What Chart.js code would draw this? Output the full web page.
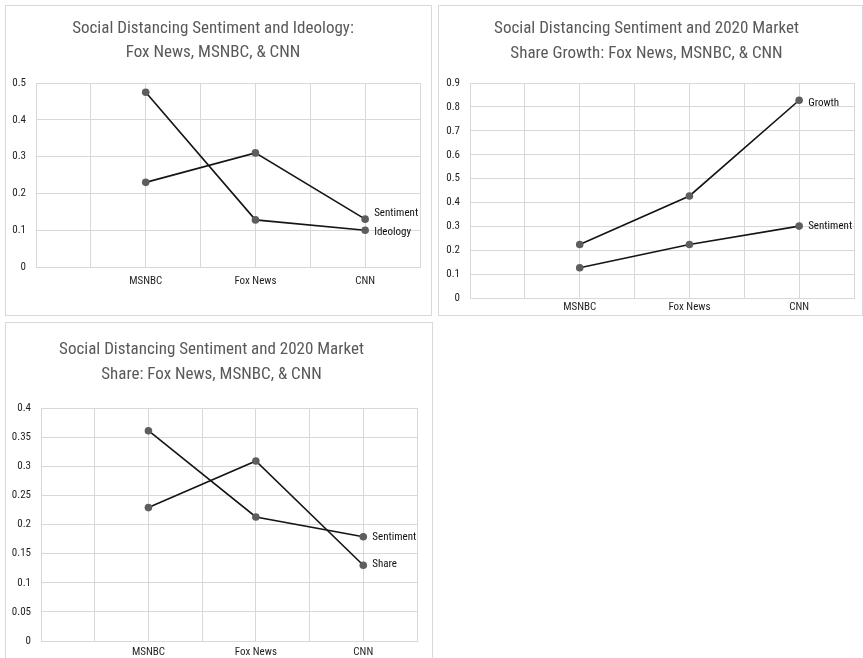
<!DOCTYPE html>
<html><head><meta charset="utf-8">
<script src="https://cdn.jsdelivr.net/npm/chart.js@4.4.1/dist/chart.umd.min.js"></script>
<style>
html,body{margin:0;padding:0;background:#fff;width:863px;height:658px;overflow:hidden;position:relative;}
.panel{position:absolute;box-sizing:border-box;border:1px solid #d9d9d9;background:#fff;}
.panel canvas{display:block;}
</style></head><body>
<div class="panel" style="left:5px;top:5px;width:427px;height:311px"><canvas id="c1"></canvas></div>
<div class="panel" style="left:438px;top:5px;width:425px;height:311px"><canvas id="c2"></canvas></div>
<div class="panel" style="left:5px;top:322px;width:428px;height:340px"><canvas id="c3"></canvas></div>
<script>
// ---- data ----
const categories = ['MSNBC', 'Fox News', 'CNN'];

const chart1Title = ['Social Distancing Sentiment and Ideology:', 'Fox News, MSNBC, & CNN'];
const chart1Names = ['Sentiment', 'Ideology'];
const chart1Sentiment = [0.23, 0.31, 0.13];
const chart1Ideology = [0.475, 0.128, 0.10];
const chart1YMax = 0.5, chart1YStep = 0.1;

const chart2Title = ['Social Distancing Sentiment and 2020 Market', 'Share Growth: Fox News, MSNBC, & CNN'];
const chart2Names = ['Growth', 'Sentiment'];
const chart2Growth = [0.225, 0.428, 0.828];
const chart2Sentiment = [0.128, 0.225, 0.302];
const chart2YMax = 0.9, chart2YStep = 0.1;

const chart3Title = ['Social Distancing Sentiment and 2020 Market', 'Share: Fox News, MSNBC, & CNN'];
const chart3Names = ['Sentiment', 'Share'];
const chart3Sentiment = [0.361, 0.213, 0.179];
const chart3Share = [0.229, 0.309, 0.130];
const chart3YMax = 0.4, chart3YStep = 0.05;

// ---- fonts ----
const FONT = '"Roboto Condensed", "Open Sans", sans-serif';

// ---- helpers ----
const slot = i => 2 * i + 2; // category index -> position on the 0..7 axis
const toPts = arr => arr.map((v, i) => ({x: slot(i), y: v}));
const catLabel = v => { const i = (v - 2) / 2; return Number.isInteger(i) && categories[i] ? categories[i] : ''; };

const endLabels = {
  id: 'endLabels',
  afterDatasetsDraw(chart) {
    const ctx = chart.ctx;
    chart.data.datasets.forEach((ds, i) => {
      const meta = chart.getDatasetMeta(i);
      const last = meta.data[meta.data.length - 1];
      if (!last) return;
      ctx.save();
      ctx.font = '11px ' + FONT;
      ctx.fillStyle = '#111';
      ctx.textBaseline = 'middle';
      ctx.textAlign = 'left';
      ctx.fillText(ds.label, last.x + 9, last.y + (ds.labelDy || 0));
      ctx.restore();
    });
  }
};

function makeChart(id, cfg) {
  const grid = {color: '#d5d9dd', lineWidth: 1, drawTicks: false};
  return new Chart(document.getElementById(id), {
    type: 'line',
    data: {
      datasets: cfg.series.map(s => ({
        label: s.name,
        data: toPts(s.values),
        borderColor: '#141414',
        borderWidth: 1.6,
        pointRadius: 3.8,
        pointBackgroundColor: '#5e5e5e',
        pointBorderWidth: 0,
        tension: 0,
        labelDy: s.dy
      }))
    },
    options: {
      responsive: true,
      maintainAspectRatio: false,
      animation: false,
      layout: {padding: {left: 0, right: cfg.padRight, top: 0, bottom: 0}},
      plugins: {
        legend: {display: false},
        tooltip: {enabled: false},
        title: {
          display: true,
          text: cfg.title,
          color: '#595959',
          font: {family: FONT, size: 17, weight: 'normal', lineHeight: cfg.titleLH + 'px'},
          padding: {top: cfg.titleTop, bottom: cfg.titleBottom}
        }
      },
      scales: {
        x: {
          type: 'linear', min: 0, max: 7,
          grid: grid,
          border: {color: '#d5d9dd'},
          afterBuildTicks: s => { s.ticks = [0,1,2,3,4,5,6,7].map(v => ({value: v})); },
          afterFit: s => { s.height = cfg.xHeight; },
          ticks: {
            autoSkip: false, maxRotation: 0, padding: cfg.xPad,
            color: '#1f1f1f', font: {family: FONT, size: 11},
            callback: v => catLabel(v)
          }
        },
        y: {
          min: 0, max: cfg.yMax,
          grid: grid,
          border: {color: '#d5d9dd'},
          afterFit: s => { s.width = cfg.yWidth; },
          ticks: {
            stepSize: cfg.yStep, padding: 10,
            color: '#1f1f1f', font: {family: FONT, size: 11},
            callback: v => String(+v.toFixed(2))
          }
        }
      }
    },
    plugins: [endLabels]
  });
}

makeChart('c1', {
  title: chart1Title, titleLH: 24, titleTop: 11, titleBottom: 18,
  padRight: 11, yWidth: 30, xHeight: 48, xPad: 8,
  yMax: chart1YMax, yStep: chart1YStep,
  series: [{name: chart1Names[0], values: chart1Sentiment, dy: -6},
           {name: chart1Names[1], values: chart1Ideology, dy: 2}]
});
makeChart('c2', {
  title: chart2Title, titleLH: 25, titleTop: 10.5, titleBottom: 16.5,
  padRight: 8, yWidth: 31, xHeight: 15, xPad: 2,
  yMax: chart2YMax, yStep: chart2YStep,
  series: [{name: chart2Names[0], values: chart2Growth, dy: 3},
           {name: chart2Names[1], values: chart2Sentiment, dy: 0}]
});
makeChart('c3', {
  title: chart3Title, titleLH: 25, titleTop: 14.5, titleBottom: 20.5,
  padRight: 15, yWidth: 35, xHeight: 20, xPad: 5,
  yMax: chart3YMax, yStep: chart3YStep,
  series: [{name: chart3Names[0], values: chart3Sentiment, dy: 1},
           {name: chart3Names[1], values: chart3Share, dy: -1}]
});
</script>
</body></html>
